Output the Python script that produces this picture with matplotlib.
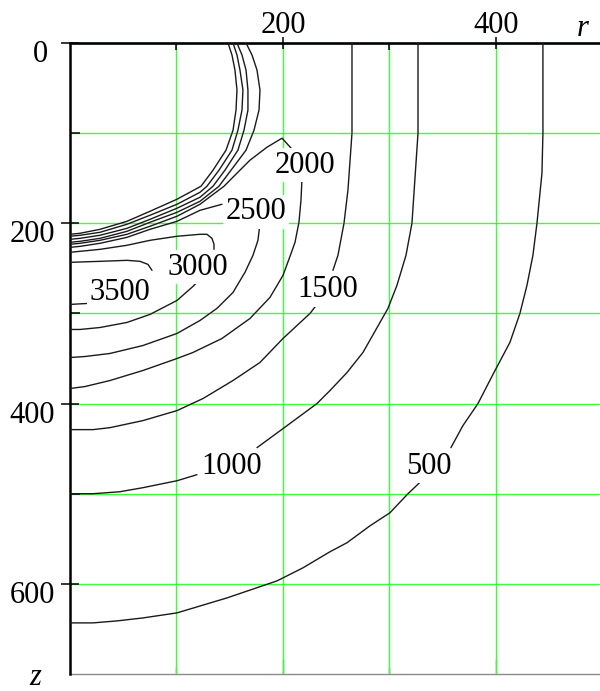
import numpy as np
import matplotlib
matplotlib.use("Agg")
import matplotlib.pyplot as plt
from matplotlib.transforms import ScaledTranslation

plt.rcParams['font.family'] = ['Liberation Serif', 'DejaVu Serif']

nan = np.nan

# Isotherm levels and where each level's value is written
levels = [500, 1000, 1500, 2000, 2500, 3000, 3500]
label_r = [336.6, 151.6, 242.3, 220.7, 174.6, 120.2, 46.9]
label_z = [469.4, 469.4, 273.9, 135.6, 187.2, 248.9, 277.2]

# Traced isotherms (r, z); NaN marks the gap where the label sits
r_500 = [444.1, 444.1, 443.2, 438.5, 434.7, 429.1, 422.5, 413.1, 398.1, 383.1, 369.0, 357.7, nan,
         335.2, 317.4, 300.5, 281.7, 260.1, 244.1, 218.8, 194.4, 147.4, 100.5, 68.5, 44.1, 21.6, 0]
z_500 = [0, 100, 144.4, 200, 235.6, 268.9, 300, 332.2, 365.6, 400, 424.4, 448.9, nan,
         480, 500, 521.1, 535.6, 554.4, 564.4, 582.2, 596.7, 615.6, 632.2, 637.8, 641.1, 643.3, 643.3]

r_1000 = [326.8, 326.8, 321.1, 315.5, 307.0, 298.6, 291.1, 275.1, 260.1, 244.1, 231.9,
          200.0, 175.6, nan, 119.2, 100.5, 68.5, 46.9, 21.6, 0]
z_1000 = [0, 100, 200, 235.6, 268.9, 294.4, 310.0, 343.3, 365.6, 385.6, 400,
          427.8, 448.9, nan, 478.9, 485.6, 493.3, 497.8, 500, 500]

r_1500 = [264.8, 264.8, 261.0, 257.3, 251.6, 246.9, nan, 234.7, 225.4, 200, 178.4,
          153.1, 124.9, 100.5, 68.5, 37.6, 21.6, 0]
z_1500 = [0, 100, 163.3, 200, 235.6, 252.2, nan, 285.6, 300, 327.8, 354.4,
          374.4, 394.4, 407.8, 418.9, 426.7, 428.9, 428.9]

r_2000 = [0, 9.4, 28.2, 53.5, 75.1, 100.5, 122.1, 144.6, 159.6, 169.0, 185.0, 199.1,
          209.4, nan, 217.8, 216.9, 215.0, 211.3, 206.6, 200, 187.8, 169.0, 142.7,
          115.5, 100.5, 68.5, 37.6, 14.1, 0]
z_2000 = [223.3, 222.2, 218.9, 212.2, 203.3, 192.2, 178.9, 158.9, 141.1, 130, 115.6, 105.6,
          118.9, nan, 152.2, 174.4, 198.9, 221.1, 236.7, 257.8, 282.2, 305.6, 327.8,
          343.3, 350, 363.3, 374.4, 381.1, 383.3]

r_2500 = [0, 9.4, 28.2, 53.5, 75.1, 100.5, 122.1, 142.7, nan, 178.4, 176.5, 171.8,
          164.3, 153.1, 138.0, 122.1, 100.5, 68.5, 37.6, 14.1, 0]
z_2500 = [226.7, 225.6, 222.2, 215.6, 206.7, 197.8, 185.6, 178.9, nan, 200, 218.9, 235.6,
          254.4, 276.7, 294.4, 307.8, 322.2, 335.6, 344.4, 347.8, 348.9]

r_3000 = [0, 9.4, 28.2, 53.5, 75.1, 100.5, 122.1, 128.6, 133.3, 135.2, 135.2, nan,
          122.1, 115.5, 100.5, 75.1, 53.5, 28.2, 9.4, 0]
z_3000 = [232.2, 231.1, 228.9, 224.4, 218.9, 214.4, 212.2, 212.2, 216.7, 223.3, 228.9, nan,
          262.2, 270, 285.6, 301.1, 310, 315.6, 317.8, 317.8]

r_3500 = [0, 28.2, 53.5, 65.7, 73.2, 77.0, nan, 16.9, 0]
z_3500 = [243.3, 242.2, 241.1, 242.2, 245.6, 252.2, nan, 288.9, 290]

# Unlabelled isotherms crowding around the hot zone near the surface
r_s1 = [148.4, 152.1, 154.9, 156.8, 155.9, 153.1, 146.5, 134.3, 123.0, 100.5, 75.1, 53.5, 28.2, 9.4, 0]
z_s1 = [0, 13.3, 30, 52.2, 74.4, 96.7, 118.9, 141.1, 158.9, 173.3, 186.7, 197.8, 206.7, 211.1, 212.2]
r_s2 = [153.1, 156.8, 159.6, 162.4, 161.5, 157.7, 152.1, 139.9, 128.6, 122.1, 100.5, 75.1, 53.5, 28.2, 9.4, 0]
z_s2 = [0, 13.3, 30, 52.2, 74.4, 96.7, 118.9, 141.1, 158.9, 165.6, 178.9, 191.1, 201.1, 210, 213.3, 214.4]
r_s3 = [156.8, 161.5, 165.3, 167.1, 167.1, 163.4, 157.7, 145.5, 134.3, 122.1, 100.5, 75.1, 53.5, 28.2, 9.4, 0]
z_s3 = [0, 13.3, 30, 52.2, 74.4, 96.7, 118.9, 141.1, 158.9, 171.1, 183.3, 195.6, 205.6, 213.3, 216.7, 217.8]
r_s4 = [165.3, 170.9, 175.6, 178.4, 177.5, 172.8, 165.3, 151.2, 139.9, 122.1, 100.5, 75.1, 53.5, 28.2, 9.4, 0]
z_s4 = [0, 13.3, 30, 52.2, 74.4, 96.7, 118.9, 141.1, 158.9, 175.6, 187.8, 198.9, 208.9, 216.7, 220, 221.1]

r_ticks_major = [200, 400]
r_ticks_minor = [100, 300]
z_ticks_major = [0, 200, 400, 600]
z_ticks_minor = [100, 300, 500]
r_max, z_max = 497.7, 700

labelled = {500: (r_500, z_500), 1000: (r_1000, z_1000), 1500: (r_1500, z_1500),
            2000: (r_2000, z_2000), 2500: (r_2500, z_2500), 3000: (r_3000, z_3000),
            3500: (r_3500, z_3500)}
unlabelled = [(r_s1, z_s1), (r_s2, z_s2), (r_s3, z_s3), (r_s4, z_s4)]

fig = plt.figure(figsize=(6.0, 6.91), dpi=100)
ax = fig.add_axes([70 / 600, 1 - 674 / 691, 530 / 600, 631 / 691])
ax.set_xlim(0, r_max)
ax.set_ylim(z_max, 0)

line_kw = dict(color='#1a1a1a', lw=1.0, solid_capstyle='round', solid_joinstyle='round', zorder=3)
for lev in levels:
    r, z = labelled[lev]
    ax.plot(r, z, **line_kw)
for r, z in unlabelled:
    ax.plot(r, z, **line_kw)

for lev, lr, lz in zip(levels, label_r, label_z):
    ax.text(lr, lz, str(lev), fontsize=22, ha='center', va='center', zorder=5,
            bbox=dict(boxstyle='square,pad=0.08', fc='white', ec='none'))

# Axes: r along the top, depth z downward
ax.xaxis.tick_top()
ax.set_xticks(r_ticks_major)
ax.set_xticks(r_ticks_minor, minor=True)
ax.set_yticks(z_ticks_major, [str(v) for v in z_ticks_major])
ax.set_yticks(z_ticks_minor, minor=True)
ax.grid(which='both', color='#3cff3c', lw=1.0, zorder=1)
ax.set_axisbelow(True)

ax.tick_params(axis='x', which='major', direction='inout', length=9, width=1.1,
               labelsize=22, pad=-2, colors='black')
ax.tick_params(axis='x', which='minor', direction='in', length=5, width=1.1)
ax.tick_params(axis='y', which='major', direction='inout', length=13, width=1.1,
               labelsize=22, pad=4.5)
ax.tick_params(axis='y', which='minor', direction='in', length=7, width=1.1)

for side in ('right', 'bottom'):
    ax.spines[side].set_visible(False)
ax.spines['top'].set_linewidth(1.9)
ax.spines['left'].set_linewidth(1.8)

bottom = ax.secondary_xaxis('bottom')
bottom.set_xticks(r_ticks_major, ['', ''])
bottom.set_xticks(r_ticks_minor, minor=True)
bottom.tick_params(which='major', direction='in', length=11, width=1.0, color='#707070')
bottom.tick_params(which='minor', direction='in', length=5, width=1.0, color='#707070')
bottom.spines['bottom'].set_color('#8a8a8a')
bottom.spines['bottom'].set_linewidth(1.0)

for i, lbl in enumerate(ax.get_yticklabels()):
    dx = -0.07 if i == 0 else 0.0
    lbl.set_transform(lbl.get_transform() + ScaledTranslation(dx, -0.08, fig.dpi_scale_trans))

fig.text(583 / 600, 1 - 36 / 691, 'r', fontsize=22, style='italic', ha='center', va='baseline')
fig.text(35 / 600, 1 - 685 / 691, 'z', fontsize=22, style='italic', ha='center', va='baseline')

fig.savefig('out.png', dpi=100)
